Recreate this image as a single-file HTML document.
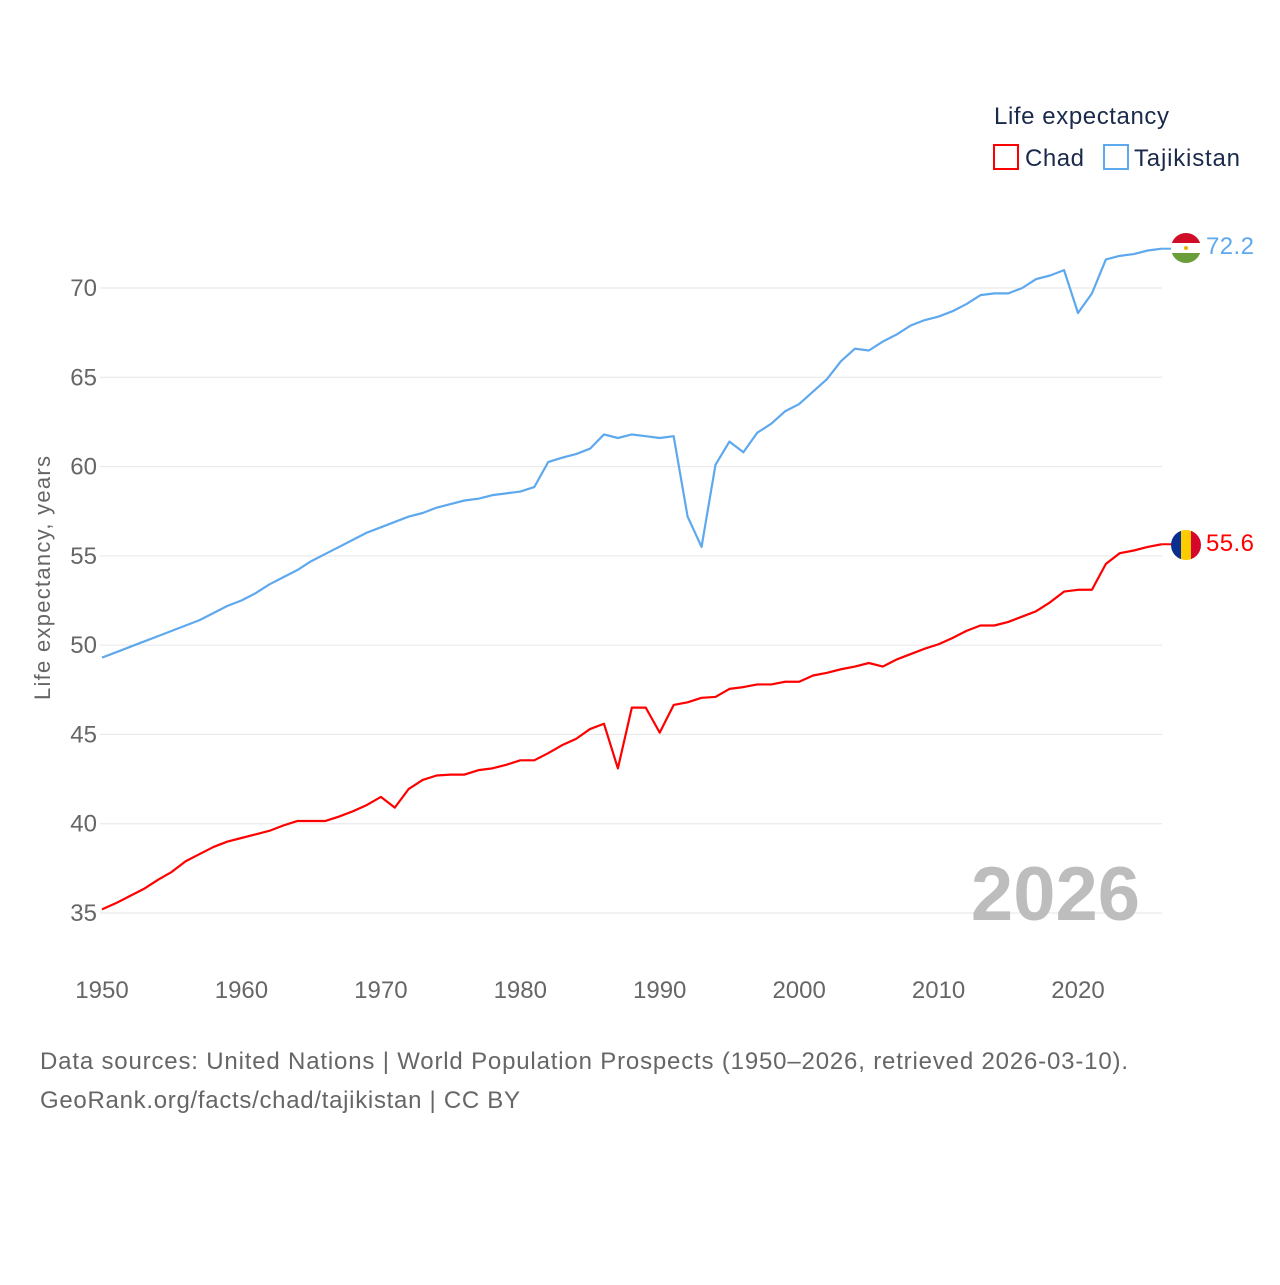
<!DOCTYPE html>
<html><head><meta charset="utf-8"><style>
body{margin:0;background:#fff;font-family:"Liberation Sans",sans-serif}
</style></head><body>
<svg width="1280" height="1280" viewBox="0 0 1280 1280" xmlns="http://www.w3.org/2000/svg" font-family="Liberation Sans, sans-serif">
<g id="grid"></g>
<g id="yticks"></g>
<g id="xticks"></g>
<text x="50" y="578" transform="rotate(-90 50 578)" text-anchor="middle" font-size="22" fill="#666" textLength="244">Life expectancy, years</text>
<text x="1140" y="920" text-anchor="end" font-size="76" font-weight="bold" fill="#bdbdbd">2026</text>
<g id="series"></g>
<g>
<text x="994" y="124" font-size="24" fill="#1a2a4a" textLength="175">Life expectancy</text>
<g><rect x="994" y="145" width="24" height="24" fill="none" stroke="#f00" stroke-width="2"/><text x="1025" y="166" font-size="24" fill="#1a2a4a" textLength="59">Chad</text></g>
<g><rect x="1104" y="145" width="24" height="24" fill="none" stroke="#5ea8ee" stroke-width="2"/><text x="1134" y="166" font-size="24" fill="#1a2a4a" textLength="106">Tajikistan</text></g>
</g>
<g>
<clipPath id="ct"><circle cx="1186" cy="248" r="15"/></clipPath>
<g clip-path="url(#ct)"><rect x="1170" y="232" width="32" height="11" fill="#d00c27"/><rect x="1170" y="243" width="32" height="10" fill="#fff"/><rect x="1170" y="253" width="32" height="12" fill="#6a9e3a"/><circle cx="1186" cy="248" r="2" fill="#e8b000"/></g></g>
<g>
<clipPath id="cc"><circle cx="1186" cy="545" r="15"/></clipPath>
<g clip-path="url(#cc)"><rect x="1170" y="529" width="11" height="32" fill="#0a2f8f"/><rect x="1181" y="529" width="10" height="32" fill="#fecb00"/><rect x="1191" y="529" width="12" height="32" fill="#d5082c"/></g></g>
<text x="1206" y="254" font-size="24" fill="#5ea8ee" textLength="48">72.2</text>
<text x="1206" y="551" font-size="24" fill="#f00" textLength="48">55.6</text>
<text x="40" y="1069" font-size="24" fill="#666" textLength="1088">Data sources: United Nations | World Population Prospects (1950–2026, retrieved 2026-03-10).</text>
<text x="40" y="1108" font-size="24" fill="#666" textLength="480">GeoRank.org/facts/chad/tajikistan | CC BY</text>
</svg>
<script>
const years=[];for(let y=1950;y<=2026;y++)years.push(y);
const tajikistan=[49.3,49.6,49.9,50.2,50.5,50.8,51.1,51.4,51.8,52.2,52.5,52.9,53.4,53.8,54.2,54.7,55.1,55.5,55.9,56.3,56.6,56.9,57.2,57.4,57.7,57.9,58.1,58.2,58.4,58.5,58.6,58.85,60.25,60.5,60.7,61.0,61.8,61.6,61.8,61.7,61.6,61.7,57.2,55.5,60.1,61.4,60.8,61.9,62.4,63.1,63.5,64.2,64.9,65.9,66.6,66.5,67.0,67.4,67.9,68.2,68.4,68.7,69.1,69.6,69.7,69.7,70.0,70.5,70.7,71.0,68.6,69.7,71.6,71.8,71.9,72.1,72.2];
const chad=[35.2,35.55,35.95,36.35,36.85,37.3,37.9,38.3,38.7,39.0,39.2,39.4,39.6,39.9,40.15,40.15,40.15,40.4,40.7,41.05,41.5,40.9,41.95,42.45,42.7,42.75,42.75,43.0,43.1,43.3,43.55,43.55,43.95,44.4,44.75,45.3,45.6,43.1,46.5,46.5,45.1,46.65,46.8,47.05,47.1,47.55,47.65,47.8,47.8,47.95,47.95,48.3,48.45,48.65,48.8,49.0,48.8,49.2,49.5,49.8,50.05,50.4,50.8,51.1,51.1,51.3,51.6,51.9,52.4,53.0,53.1,53.1,54.55,55.15,55.3,55.5,55.65];
const yTicks=[35,40,45,50,55,60,65,70];
const xTicks=[1950,1960,1970,1980,1990,2000,2010,2020];
const X=y=>102+(y-1950)*(1078-102)/70;
const Y=v=>288+(70-v)*(913-288)/35;
const NS="http://www.w3.org/2000/svg";
function mk(t,a,p){const e=document.createElementNS(NS,t);for(const k in a)e.setAttribute(k,a[k]);p.appendChild(e);return e;}
const grid=document.getElementById('grid'),yt=document.getElementById('yticks'),xt=document.getElementById('xticks'),ser=document.getElementById('series');
yTicks.forEach(v=>{
 const l=mk('line',{x1:100,x2:1162,y1:Y(v),y2:Y(v),stroke:'#e6e6e6','stroke-width':1},grid);
 
 
 const t=mk('text',{x:97,y:Y(v)+8,'text-anchor':'end','font-size':24,fill:'#666'},yt);t.textContent=v;
 
 
});
xTicks.forEach(v=>{
 const t=mk('text',{x:X(v),y:998,'text-anchor':'middle','font-size':24,fill:'#666'},xt);t.textContent=v;
 
 
});
function line(d,c,name){
 const p=mk('polyline',{points:d.map((v,i)=>X(years[i])+','+Y(v)).join(' '),fill:'none',stroke:c,'stroke-width':2.2,'stroke-linejoin':'round'},ser);
 
 
 const l=mk('line',{x1:X(2026),x2:1172,y1:Y(d[d.length-1]),y2:Y(d[d.length-1]),stroke:c,'stroke-width':2},ser);
 
 
}
line(tajikistan,'#5ea8ee','line-tajikistan');
line(chad,'#f00','line-chad');
</script>
</body></html>
